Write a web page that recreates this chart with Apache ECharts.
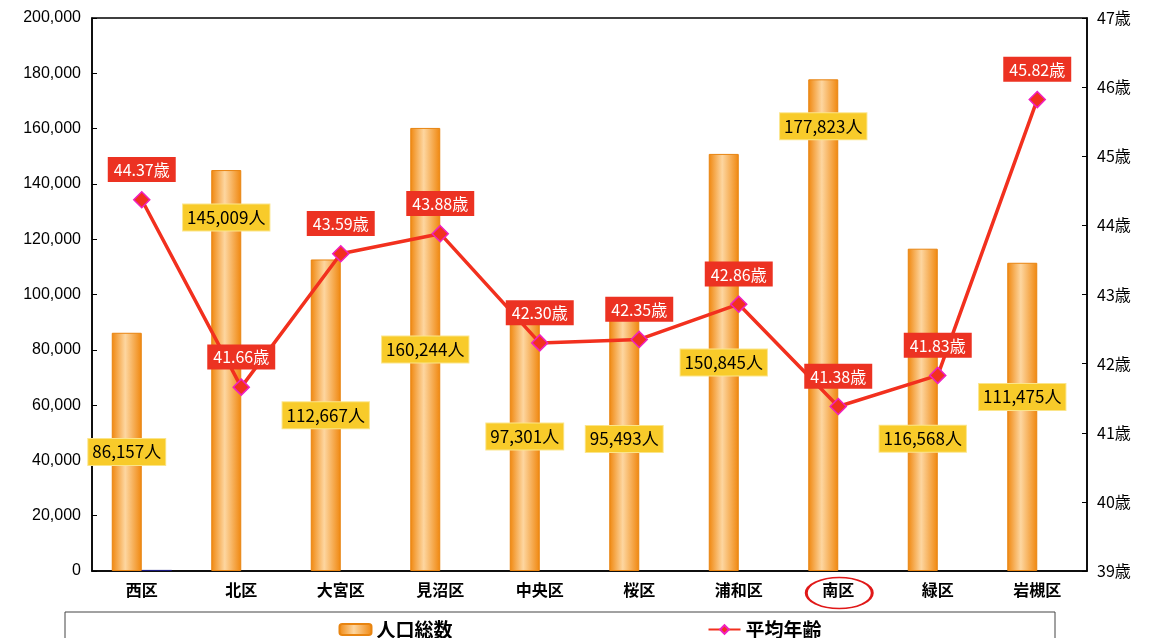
<!DOCTYPE html>
<html><head><meta charset="utf-8">
<script src="https://cdn.jsdelivr.net/npm/echarts@6/dist/echarts.min.js"></script>
<style>html,body{margin:0;padding:0;background:#fff}#c{width:1160px;height:638px}</style>
</head><body><div id="c"></div>
<script>
var categories = ['西区','北区','大宮区','見沼区','中央区','桜区','浦和区','南区','緑区','岩槻区'];
var population = [86157,145009,112667,160244,97301,95493,150845,177823,116568,111475];
var avgAge = [44.37,41.66,43.59,43.88,42.30,42.35,42.86,41.38,41.83,45.82];
var leftTicks = {min:0,max:200000,interval:20000};
var rightTicks = {min:39,max:47,interval:1};
var dummy = [400,null,null,null,null,null,null,null,null,null];

// label pixel adjustments (layout, not data)
var popLabelShift = [0,-153,0,0,0,0,0,-199,29,-20];

var font = '"Noto Sans CJK JP", "Noto Sans", sans-serif';
var chart = echarts.init(document.getElementById('c'));
var barGrad = new echarts.graphic.LinearGradient(0,0,1,0,[
  {offset:0,color:'#f0870e'},{offset:0.45,color:'#fdd6a0'},{offset:1,color:'#f0870e'}]);

var popData = population.map(function(v,i){
  return {value:v,label:{offset:[0,popLabelShift[i]]}};
});

chart.setOption({
  animation:false,
  grid:{left:92,right:73,top:18,bottom:67,show:true,borderColor:'#000',borderWidth:1.5,backgroundColor:'transparent'},
  legend:{
    top:615,left:'center',itemGap:255,itemWidth:32,itemHeight:11,
    textStyle:{fontFamily:font,fontSize:19,fontWeight:'bold',color:'#000'},
    data:[{name:'人口総数',icon:'roundRect'},{name:'平均年齢'}]
  },
  xAxis:{
    type:'category',data:categories,
    axisLine:{lineStyle:{color:'#000',width:1.5}},
    axisTick:{inside:true,length:5,lineStyle:{color:'#000'}},
    axisLabel:{fontFamily:font,fontSize:16,fontWeight:'bold',color:'#000',margin:11}
  },
  yAxis:[{
    type:'value',min:leftTicks.min,max:leftTicks.max,interval:leftTicks.interval,
    splitLine:{show:false},
    axisLine:{show:true,lineStyle:{color:'#000',width:1.5}},
    axisTick:{show:true,inside:true,length:5,lineStyle:{color:'#000'}},
    axisLabel:{fontFamily:'Arial, "Liberation Sans", sans-serif',fontSize:16,color:'#000',margin:11,
      formatter:function(v){return v.toLocaleString('en-US');}}
  },{
    type:'value',min:rightTicks.min,max:rightTicks.max,interval:rightTicks.interval,
    splitLine:{show:false},
    axisLine:{show:true,lineStyle:{color:'#000',width:1.5}},
    axisTick:{show:true,inside:true,length:5,lineStyle:{color:'#000'}},
    axisLabel:{fontFamily:font,fontSize:16,color:'#000',margin:10,formatter:'{value}歳'}
  }],
  series:[{
    name:'人口総数',type:'bar',data:popData,barWidth:30,barGap:'0%',
    itemStyle:{color:barGrad,borderColor:'#e88410',borderWidth:1},
    label:{show:true,position:'inside',fontFamily:font,fontSize:17,color:'#000',
      backgroundColor:'#f8cb2a',padding:[5,4,4,4],borderColor:'#fbe58a',borderWidth:1,
      formatter:function(p){return p.value.toLocaleString('en-US')+'人';}},
    z:2
  },{
    name:'dummy',type:'bar',data:dummy,barWidth:30,
    itemStyle:{color:'#1a1a80'},silent:true,z:1
  },{
    name:'平均年齢',type:'line',yAxisIndex:1,data:avgAge,
    symbol:'diamond',symbolSize:16,
    lineStyle:{color:'#f2301e',width:3.5},
    itemStyle:{color:'#f2301e',borderColor:'#f020c0',borderWidth:1.5},
    label:{show:true,position:'top',distance:9,fontFamily:font,fontSize:16,color:'#fff',
      backgroundColor:'#ec3222',padding:[5,6,4,6],
      formatter:function(p){return p.value.toFixed(2)+'歳';}},
    z:5
  }]
});

var pt = chart.convertToPixel({xAxisIndex:0},'南区');
chart.setOption({graphic:[
  {type:'rect',shape:{x:65,y:612,width:990,height:40},style:{fill:'none',stroke:'#444',lineWidth:1},z:-1},
  {type:'circle',x:pt+1,y:593,scaleY:0.47,shape:{cx:0,cy:0,r:33},style:{fill:'none',stroke:'#e01818',lineWidth:3}}
]});
</script></body></html>
